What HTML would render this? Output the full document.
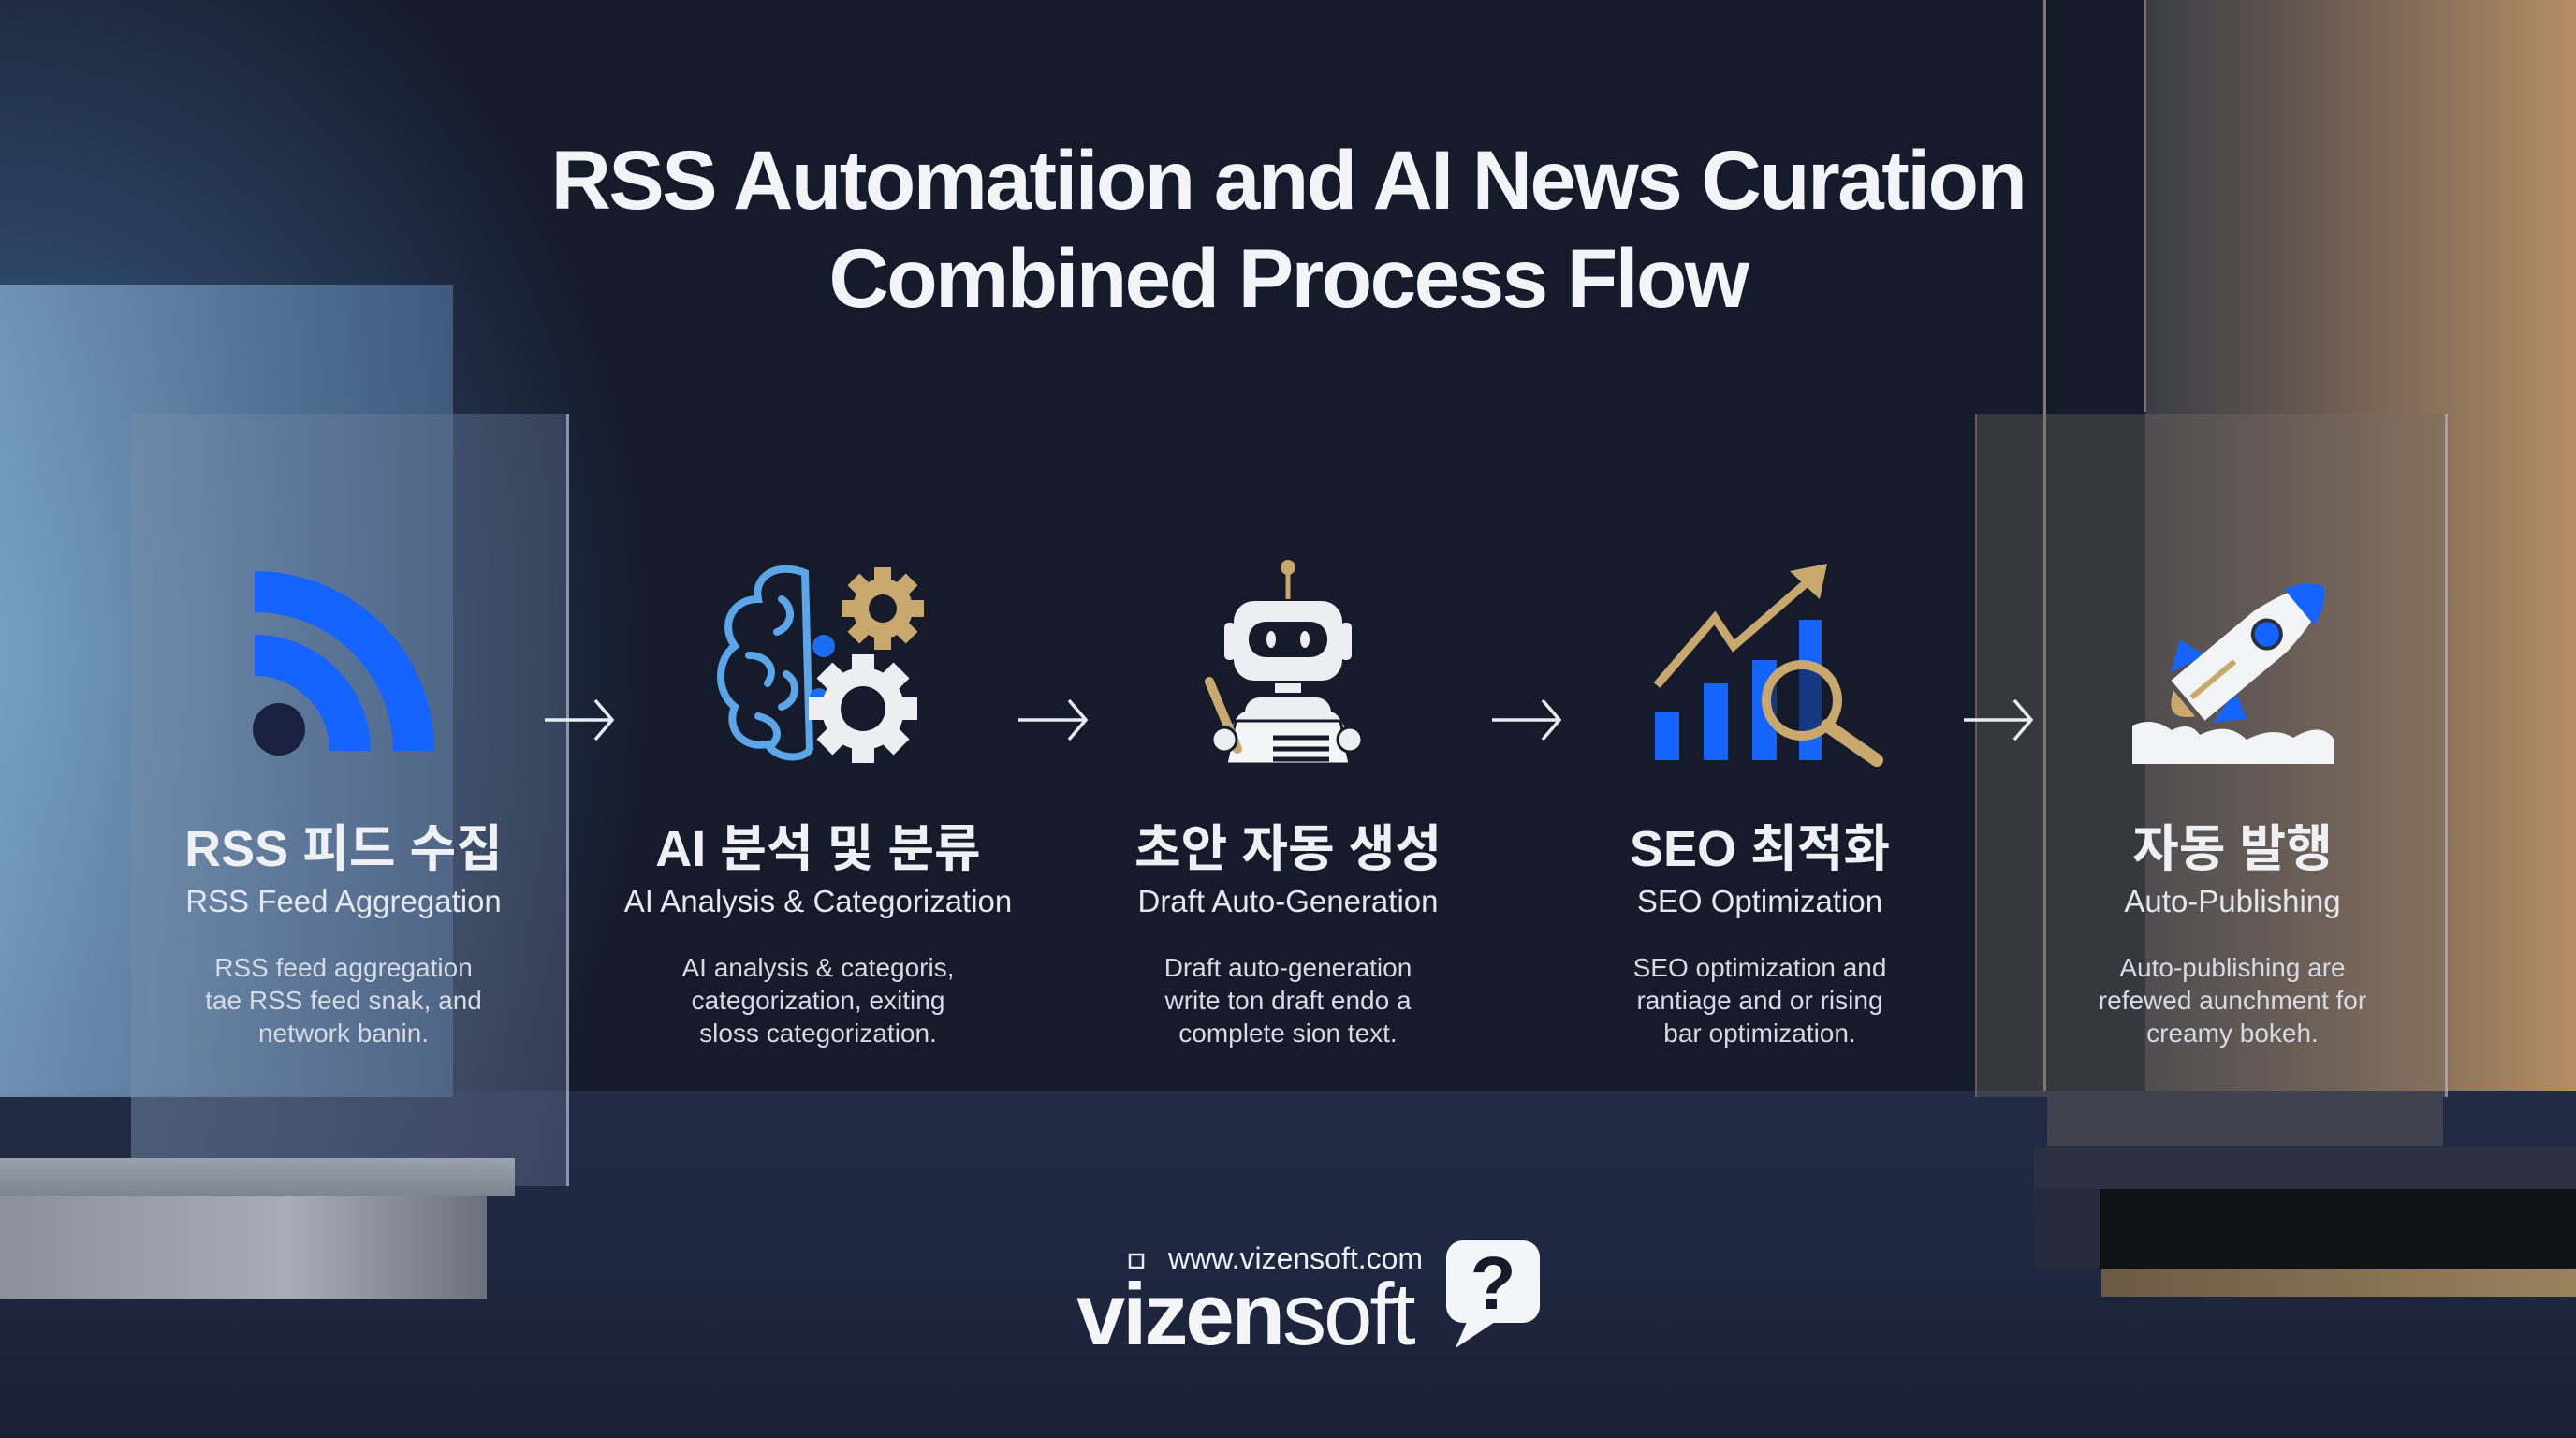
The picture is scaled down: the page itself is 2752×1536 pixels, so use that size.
<!DOCTYPE html>
<html><head><meta charset="utf-8"><style>
html,body{margin:0;padding:0;}
body{width:2752px;height:1536px;overflow:hidden;position:relative;background:#151b2b;font-family:"Liberation Sans","Noto Sans CJK KR",sans-serif;color:#fff;}
.a{position:absolute;}
.t{position:absolute;text-align:center;white-space:nowrap;width:600px;}
.ko{font-family:"Liberation Sans","Noto Sans CJK KR",sans-serif;font-weight:700;font-size:54px;color:#eef0f4;top:862px;}
.en{font-size:33px;color:#e4e7ee;top:944px;}
.ds{font-size:28px;line-height:35px;color:#d6dae2;top:1016px;}
</style></head><body>
<div class="a" style="left:0;top:0;width:2752px;height:1536px;background:radial-gradient(ellipse 700px 900px at 0px 700px,#5b84a8 0%,#2e4566 45%,rgba(21,27,43,0) 100%);"></div>
<div class="a" style="left:2292px;top:0;width:460px;height:1172px;background:linear-gradient(90deg,#3a3c46 0%,#6f5e52 45%,#b38e65 100%);"></div>
<div class="a" style="left:2183px;top:0;width:3px;height:1225px;background:#8a7a66;"></div>
<div class="a" style="left:2290px;top:0;width:3px;height:440px;background:#7a6f66;"></div>
<div class="a" style="left:0;top:1165px;width:2752px;height:371px;background:linear-gradient(180deg,#222b45 0%,#1f2740 50%,#1a2034 100%);"></div>
<div class="a" style="left:0;top:304px;width:484px;height:868px;background:linear-gradient(90deg,#7fa6c6 0%,#5a7ea4 60%,#47658a 100%);opacity:.8;"></div>
<div class="a" style="left:140px;top:442px;width:465px;height:825px;background:linear-gradient(90deg,rgba(120,140,170,.5),rgba(90,105,135,.45));border-right:3px solid rgba(200,210,230,.5);"></div>
<div class="a" style="left:0;top:1237px;width:550px;height:40px;background:linear-gradient(180deg,#9aa2ae,#7d8591);"></div>
<div class="a" style="left:0;top:1277px;width:520px;height:110px;background:linear-gradient(90deg,#8a919c,#a6adb6 60%,#6a717c);"></div>
<div class="a" style="left:2110px;top:442px;width:500px;height:730px;background:rgba(120,110,100,.35);border-right:3px solid rgba(200,200,210,.55);border-left:2px solid rgba(160,150,140,.4);"></div>
<div class="a" style="left:2187px;top:1172px;width:423px;height:52px;background:rgba(110,100,95,.4);"></div>
<div class="a" style="left:2173px;top:1225px;width:579px;height:45px;background:#2c3142;"></div>
<div class="a" style="left:2240px;top:1270px;width:512px;height:85px;background:#0f1219;"></div>
<div class="a" style="left:2173px;top:1270px;width:70px;height:85px;background:#252a3c;"></div>
<div class="a" style="left:2245px;top:1355px;width:507px;height:30px;background:linear-gradient(90deg,#6b5a44,#9a825f);"></div>

<div class="t" style="left:0;width:2752px;top:140px;font-size:89px;font-weight:700;letter-spacing:-2.5px;color:#f3f4f7;line-height:105px;">RSS Automatiion and AI News Curation<br>Combined Process Flow</div>

<svg class="a" style="left:0;top:0" width="2752" height="1536" viewBox="0 0 2752 1536">
 <circle cx="298" cy="779" r="28" fill="#1a2240"/>
 <path d="M272 700 A102 102 0 0 1 374 802" fill="none" stroke="#1664ff" stroke-width="44"/>
 <path d="M272 632 A170 170 0 0 1 442 802" fill="none" stroke="#1664ff" stroke-width="44"/>
 <g fill="none" stroke="#5aa6e8" stroke-width="8" stroke-linecap="round">
  <path d="M860 612 C830 600 805 615 810 640 C780 640 770 670 785 690 C765 705 765 740 785 755 C775 780 795 800 820 795 C830 812 860 812 865 800 Z"/>
  <path d="M835 640 C850 650 845 670 830 675 M800 700 C820 700 830 715 820 730 M840 720 C855 730 850 750 835 755 M810 765 C830 770 835 785 825 795"/>
 </g>
 <g fill="#1a6cf0"><circle cx="880" cy="690" r="12"/><circle cx="875" cy="745" r="10"/></g>
 <g transform="translate(943,650)">
  <circle r="32" fill="#c9a86e"/>
  <g fill="#c9a86e"><rect x="-9" y="-44" width="18" height="88"/><rect x="-44" y="-9" width="88" height="18"/><rect x="-9" y="-44" width="18" height="88" transform="rotate(45)"/><rect x="-9" y="-44" width="18" height="88" transform="rotate(-45)"/></g>
  <circle r="15" fill="#151b2b"/>
 </g>
 <g transform="translate(922,757)">
  <circle r="44" fill="#eceef2"/>
  <g fill="#eceef2"><rect x="-12" y="-58" width="24" height="116"/><rect x="-58" y="-12" width="116" height="24"/><rect x="-12" y="-58" width="24" height="116" transform="rotate(45)"/><rect x="-12" y="-58" width="24" height="116" transform="rotate(-45)"/></g>
  <circle r="24" fill="#151b2b"/>
 </g>
 <line x1="1376" y1="612" x2="1376" y2="640" stroke="#c9a86e" stroke-width="5"/>
 <circle cx="1376" cy="606" r="8" fill="#c9a86e"/>
 <rect x="1308" y="665" width="12" height="40" rx="5" fill="#eceef2"/>
 <rect x="1432" y="665" width="12" height="40" rx="5" fill="#eceef2"/>
 <rect x="1318" y="642" width="116" height="85" rx="22" fill="#eceef2"/>
 <rect x="1334" y="664" width="84" height="38" rx="18" fill="#151b2b"/>
 <ellipse cx="1358" cy="683" rx="5" ry="9" fill="#eceef2"/>
 <ellipse cx="1394" cy="683" rx="5" ry="9" fill="#eceef2"/>
 <rect x="1362" y="730" width="28" height="10" fill="#eceef2"/>
 <rect x="1330" y="745" width="92" height="60" rx="16" fill="#eceef2"/>
 <path d="M1308 800 Q1318 760 1332 760 L1332 800 Z M1444 800 Q1434 760 1420 760 L1420 800 Z" fill="#eceef2"/>
 <path d="M1310 816 L1320 770 L1432 770 L1442 816 Z" fill="#f4f5f7" stroke="#151b2b" stroke-width="3"/>
 <g stroke="#151b2b" stroke-width="5"><line x1="1360" y1="788" x2="1420" y2="788"/><line x1="1360" y1="800" x2="1420" y2="800"/><line x1="1360" y1="811" x2="1420" y2="811"/></g>
 <line x1="1292" y1="728" x2="1322" y2="800" stroke="#c9a86e" stroke-width="10" stroke-linecap="round"/>
 <circle cx="1308" cy="790" r="13" fill="#eceef2" stroke="#151b2b" stroke-width="3"/>
 <circle cx="1442" cy="790" r="13" fill="#eceef2" stroke="#151b2b" stroke-width="3"/>
 <g fill="#1664ff"><rect x="1768" y="760" width="26" height="52"/><rect x="1820" y="730" width="26" height="82"/><rect x="1872" y="705" width="26" height="107"/><rect x="1922" y="662" width="24" height="150"/></g>
 <polyline points="1770,732 1832,660 1852,690 1935,618" fill="none" stroke="#c9a86e" stroke-width="9"/>
 <polygon points="1952,602 1912,610 1944,640" fill="#c9a86e"/>
 <circle cx="1925" cy="748" r="38" fill="#151b2b" fill-opacity=".6" stroke="#c9a86e" stroke-width="10"/>
 <line x1="1952" y1="775" x2="2005" y2="812" stroke="#c9a86e" stroke-width="14" stroke-linecap="round"/>
 <g transform="translate(2395,700) rotate(-40)">
  <path d="M-30 -25 L-70 -35 L-40 -55 Z" fill="#1664ff"/>
  <path d="M-30 25 L-70 35 L-40 55 Z" fill="#1664ff"/>
  <path d="M-75 -28 L40 -28 Q100 -20 115 0 Q100 20 40 28 L-75 28 Z" fill="#f2f3f5"/>
  <path d="M115 0 Q100 -20 80 -25 L80 25 Q100 20 115 0 Z" fill="#1664ff"/>
  <circle cx="35" cy="0" r="15" fill="#1664ff" stroke="#2a3040" stroke-width="4"/>
  <line x1="-70" y1="0" x2="-10" y2="0" stroke="#c9a86e" stroke-width="6"/>
  <path d="M-80 -18 Q-110 0 -80 18 Z" fill="#c9a86e"/>
 </g>
 <path d="M2278 816 L2278 775 Q2300 765 2320 780 Q2340 770 2350 785 Q2380 770 2400 790 Q2430 775 2450 788 Q2480 770 2494 790 L2494 816 Z" fill="#f2f3f5"/>
 <g fill="none" stroke="#e8eaee" stroke-width="3.5">
  <path d="M582 769 L652 769 M636 748 L654 769 L636 790"/>
  <path d="M1088 769 L1158 769 M1142 748 L1160 769 L1142 790"/>
  <path d="M1594 769 L1664 769 M1648 748 L1666 769 L1648 790"/>
  <path d="M2098 769 L2168 769 M2152 748 L2170 769 L2152 790"/>
 </g>
 <rect x="1545" y="1325" width="100" height="88" rx="18" fill="#f4f5f7"/>
 <path d="M1570 1405 L1555 1440 L1600 1410 Z" fill="#f4f5f7"/>
 <text x="1595" y="1398" text-anchor="middle" font-family="Liberation Sans" font-weight="700" font-size="80" fill="#151b2b">?</text>
 <rect x="1207" y="1340" width="14" height="14" fill="none" stroke="#e8eaee" stroke-width="2.5"/>
</svg>

<div class="t ko" style="left:67px">RSS 피드 수집</div>
<div class="t en" style="left:67px">RSS Feed Aggregation</div>
<div class="t ds" style="left:67px">RSS feed aggregation<br>tae RSS feed snak, and<br>network banin.</div>

<div class="t ko" style="left:574px">AI 분석 및 분류</div>
<div class="t en" style="left:574px">AI Analysis &amp; Categorization</div>
<div class="t ds" style="left:574px">AI analysis &amp; categoris,<br>categorization, exiting<br>sloss categorization.</div>

<div class="t ko" style="left:1076px">초안 자동 생성</div>
<div class="t en" style="left:1076px">Draft Auto-Generation</div>
<div class="t ds" style="left:1076px">Draft auto-generation<br>write ton draft endo a<br>complete sion text.</div>

<div class="t ko" style="left:1580px">SEO 최적화</div>
<div class="t en" style="left:1580px">SEO Optimization</div>
<div class="t ds" style="left:1580px">SEO optimization and<br>rantiage and or rising<br>bar optimization.</div>

<div class="t ko" style="left:2085px">자동 발행</div>
<div class="t en" style="left:2085px">Auto-Publishing</div>
<div class="t ds" style="left:2085px">Auto-publishing are<br>refewed aunchment for<br>creamy bokeh.</div>

<div class="a" style="left:1248px;top:1326px;font-size:32px;color:#eceef2;white-space:nowrap;">www.vizensoft.com</div>
<div class="a" style="left:1150px;top:1352px;font-size:94px;color:#f4f5f7;white-space:nowrap;letter-spacing:-3px;line-height:104px;"><b>vizen</b>soft</div>
</body></html>
